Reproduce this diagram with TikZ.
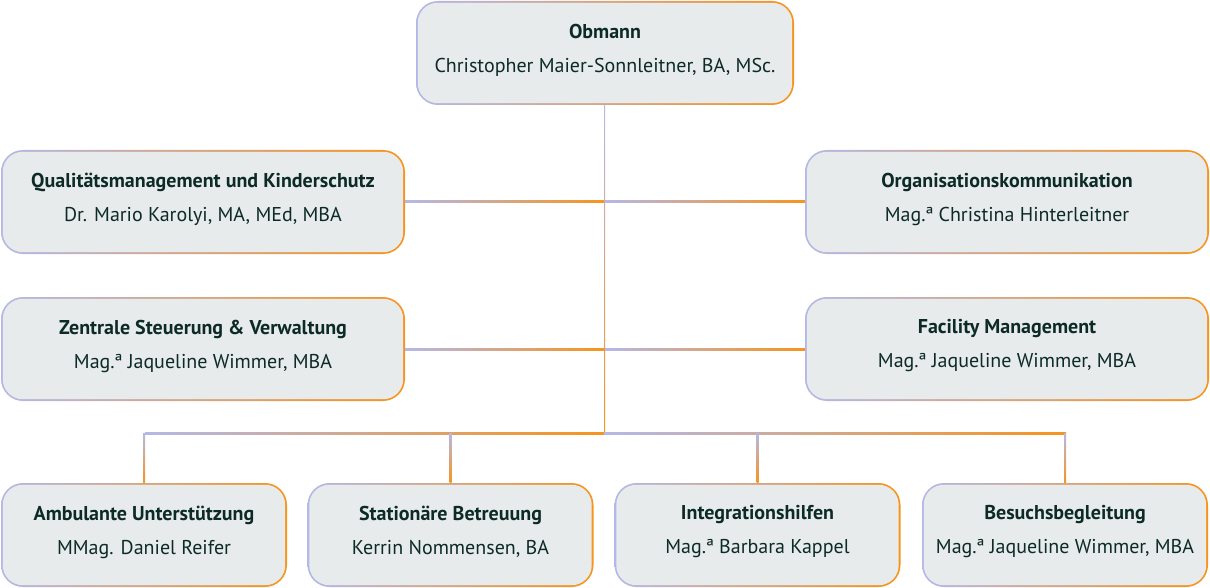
\documentclass[tikz,border=0pt]{standalone}
\usepackage{fontspec}
\setmainfont{PT Sans}
\definecolor{lav}{HTML}{B4B8E8}
\definecolor{org}{HTML}{F7941D}
\definecolor{boxfill}{HTML}{E8EBEB}
\definecolor{txt}{HTML}{0D2B26}
\begin{document}
\begin{tikzpicture}[x=1pt,y=-1pt,
  box/.style={rounded corners=22pt, minimum height=104pt, inner sep=0pt, align=center,
    text=txt, font=\fontsize{20}{34}\selectfont, left color=lav, right color=org, draw=none},
  inner/.style={fill=boxfill, rounded corners=20pt},
  hline/.style={left color=lav, right color=org},
  vline/.style={top color=lav, bottom color=org}]
\useasboundingbox (0,0) rectangle (1210,588);
\newcommand{\bx}[5]{%
  \node[box, minimum width=#3pt] (#1) at (#2) {\textbf{#4}\\#5};
  \fill[inner] ([shift={(2,2)}]#1.north west) rectangle ([shift={(-2,-2)}]#1.south east);
  \node[text=txt, align=center, font=\fontsize{20}{34}\selectfont] at ([yshift=3]#1) {\textbf{#4}\\#5};}
% connectors
\coordinate (bus) at (604,433);
\coordinate (busL) at (145,433);
\coordinate (busR) at (1066,433);
\bx{ob}{605,53}{378}{Obmann}{Christopher Maier-Sonnleitner, BA, MSc.}
\bx{qm}{203,202}{404}{Qualitätsmanagement und Kinderschutz}{Dr. Mario Karolyi, MA, MEd, MBA}
\bx{ok}{1007,202}{404}{Organisationskommunikation}{Mag.ª Christina Hinterleitner}
\bx{zs}{203,349}{404}{Zentrale Steuerung \& Verwaltung}{Mag.ª Jaqueline Wimmer, MBA}
\bx{fm}{1007,349}{404}{Facility Management}{Mag.ª Jaqueline Wimmer, MBA}
\bx{au}{144,535}{286}{Ambulante Unterstützung}{MMag. Daniel Reifer}
\bx{sb}{450.5,535}{286}{Stationäre Betreuung}{Kerrin Nommensen, BA}
\bx{ih}{757.5,535}{286}{Integrationshilfen}{Mag.ª Barbara Kappel}
\bx{bb}{1065,535}{286}{Besuchsbegleitung}{Mag.ª Jaqueline Wimmer, MBA}
\shade[hline] ([yshift=-1]qm.east) rectangle ([yshift=1]qm.east -| bus);
\shade[hline] ([yshift=-1]qm.east -| bus) rectangle ([yshift=1]ok.west);
\shade[hline] ([yshift=-1]zs.east) rectangle ([yshift=1]zs.east -| bus);
\shade[hline] ([yshift=-1]zs.east -| bus) rectangle ([yshift=1]fm.west);
\shade[vline] ([xshift=-1]ob.south) rectangle ([xshift=1]bus);
\shade[hline] ([yshift=-1]busL) rectangle ([yshift=1]bus);
\shade[hline] ([yshift=-1]bus) rectangle ([yshift=1]busR);
\foreach \n in {au,sb,ih,bb}{
  \shade[vline] ([xshift=-1]\n.north |- bus) rectangle ([xshift=1]\n.north);}
\end{tikzpicture}
\end{document}
